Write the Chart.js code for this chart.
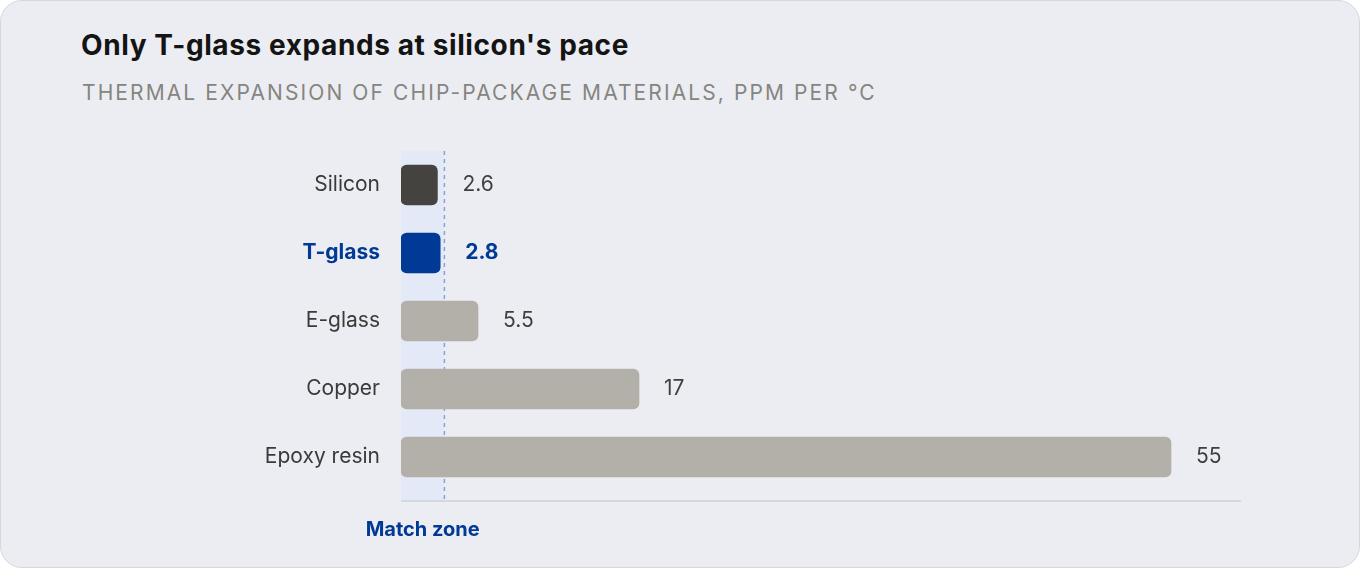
<!DOCTYPE html>
<html>
<head>
<meta charset="utf-8">
<script src="https://cdn.jsdelivr.net/npm/chart.js@4"></script>
<style>
    html, body { margin: 0; padding: 0; background: #ffffff; }
    #card {
        position: absolute; left: 0; top: 0; width: 1358px; height: 566px;
        background: #ecedf2; border: 1px solid #d6d7dd; border-radius: 22px;
        font-family: Inter, 'Noto Sans', sans-serif; overflow: hidden;
    }
    #title { position: absolute; left: 80px; top: 27px; font-size: 28px; font-weight: 700; color: #141414; letter-spacing: 0.6px; }
    #subtitle { position: absolute; left: 81px; top: 79px; font-size: 21px; letter-spacing: 2.1px; color: #85857f; }
    #chart { position: absolute; left: 0; top: 0; width: 1360px; height: 568px; }
</style>
</head>
<body>
<div id="card">
    <div id="title">Only T-glass expands at silicon's pace</div>
    <div id="subtitle">THERMAL EXPANSION OF CHIP-PACKAGE MATERIALS, PPM PER °C</div>
    <div id="chart"><canvas id="cteChart"></canvas></div>
</div>
<script>
window.addEventListener('load', () => {
    const labels = ['Silicon', 'T-glass', 'E-glass', 'Copper', 'Epoxy resin'];
    const values = [2.6, 2.8, 5.5, 17, 55];
    const colors = ['#45433f', '#003a96', '#b2b0a9', '#b2b0a9', '#b2b0a9'];
    const blue = '#003a96';
    const fontFamily = 'Inter, "Noto Sans", sans-serif';

    const matchZone = {
        id: 'matchZone',
        beforeDatasetsDraw(chart) {
            const { ctx, chartArea, scales } = chart;
            const x0 = scales.x.getPixelForValue(0);
            const x1 = scales.x.getPixelForValue(3.1);
            const bottom = chartArea.bottom + 10;
            ctx.save();
            ctx.fillStyle = '#e3e9f6';
            ctx.fillRect(x0, chartArea.top, x1 - x0, bottom - chartArea.top);
            ctx.strokeStyle = '#86a4d2';
            ctx.lineWidth = 1.5;
            ctx.setLineDash([4, 4]);
            ctx.beginPath();
            ctx.moveTo(x1, chartArea.top);
            ctx.lineTo(x1, bottom);
            ctx.stroke();
            ctx.setLineDash([]);
            // axis line
            ctx.strokeStyle = '#cfd0d4';
            ctx.beginPath();
            ctx.moveTo(chartArea.left, bottom);
            ctx.lineTo(chartArea.right, bottom);
            ctx.stroke();
            ctx.restore();
        },
        afterDatasetsDraw(chart) {
            const { ctx, chartArea, scales } = chart;
            const meta = chart.getDatasetMeta(0);
            ctx.save();
            ctx.textBaseline = 'middle';
            meta.data.forEach((bar, i) => {
                const isT = i === 1;
                ctx.font = (isT ? '700 ' : '400 ') + '21px ' + fontFamily;
                ctx.fillStyle = isT ? blue : '#3f3f3f';
                ctx.fillText(String(values[i]), bar.x + 25, bar.y);
            });
            ctx.font = '700 20px ' + fontFamily;
            ctx.fillStyle = blue;
            ctx.textAlign = 'center';
            ctx.fillText('Match zone', scales.x.getPixelForValue(1.55), chartArea.bottom + 39);
            ctx.restore();
        },
    };

    new Chart(document.getElementById('cteChart'), {
        type: 'bar',
        data: {
            labels,
            datasets: [{
                data: values,
                backgroundColor: colors,
                borderRadius: 6,
                borderSkipped: false,
                barThickness: 40,
            }],
        },
        options: {
            indexAxis: 'y',
            responsive: true,
            maintainAspectRatio: false,
            animation: false,
            layout: { padding: { left: 0, right: 120, top: 150, bottom: 78 } },
            scales: {
                x: {
                    min: 0,
                    max: 60,
                    afterFit: (s) => { s.height = 0; },
                    ticks: { display: false },
                    grid: { display: false },
                    border: { display: false },
                },
                y: {
                    afterFit: (s) => { s.width = 400; },
                    grid: { display: false },
                    border: { display: false },
                    ticks: {
                        padding: 13,
                        color: (c) => c.index === 1 ? blue : '#3a3a3a',
                        font: (c) => ({ family: fontFamily, size: 21, weight: c.index === 1 ? '700' : '400' }),
                    },
                },
            },
            plugins: { legend: { display: false }, tooltip: { enabled: false } },
        },
        plugins: [matchZone],
    });
});
</script>
</body>
</html>
